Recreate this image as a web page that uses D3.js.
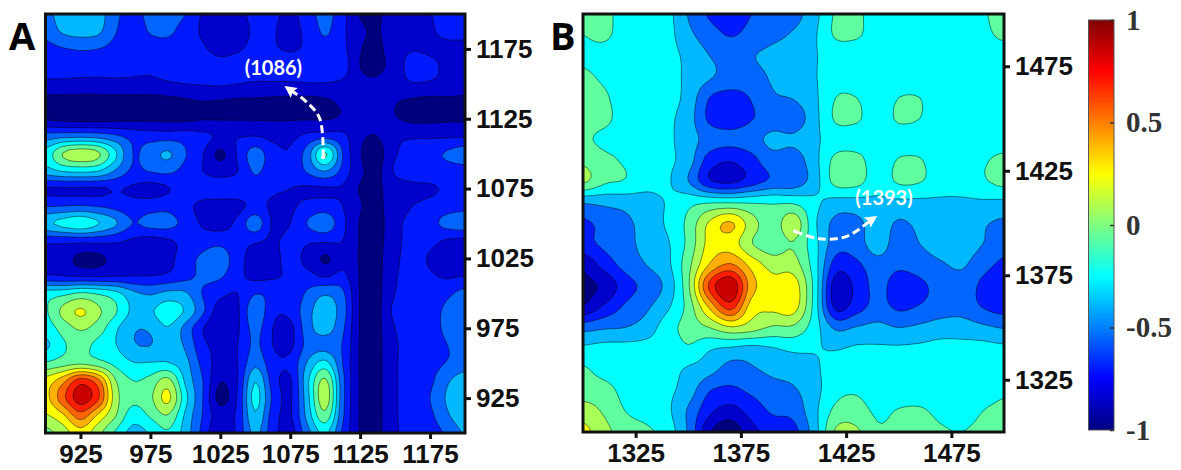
<!DOCTYPE html>
<html>
<script src='https://d3js.org/d3.v7.min.js'></script>
<style>
body {margin: 0; background: white;}
svg {display: block;}
.tick text {font-family: "Liberation Sans", sans-serif; font-weight: bold; font-size: 26px; fill: #111;}
.tick line, .domain {stroke: #111;}
.bar .tick text {font-family: "Liberation Serif", serif; font-size: 29px; fill: #333;}
.bar .tick line {stroke: #333; stroke-width: 1.5;}
.bar .domain {display: none;}
.letter {font-family: "Open Sans", sans-serif; font-weight: bold; font-size: 38px; fill: black;}
.note {font-family: "Lato", sans-serif; font-weight: bold; font-size: 20px; fill: white; text-anchor: middle;}
</style>
<body>
<svg width=1181 height=470></svg>
<script>
// contour levels and the colour filled above each one
const levels = [-1, -.85, -.7, -.55, -.4, -.25, -.1, .05, .2, .35, .5, .65, .8];
const bandColors = ["#00007f","#0000cc","#0019ff","#0066ff","#00b8ff","#00ffff","#5fffa0","#a8ff57","#ffff00","#ffb000","#ff6400","#ff1e00","#c80000"];

// colour bar
const jetValues = [-1, -.75, -.25, .25, .75, 1];
const jetColors = ["#00007f","#0000ff","#00ffff","#ffff00","#ff0000","#7f0000"];
const barTicks = [-1, -.5, 0, .5, 1];

// panel A, top row first
const ticksA = [925, 975, 1025, 1075, 1125, 1175];
const colsA = d3.range(900, 1212.5, 12.5);
const rowsA = d3.range(1200, 887.5, -12.5);
const gridA = [
[-.45,-.33,-.28,-.32,-.52,-.58,-.52,-.5,-.55,-.72,-.76,-.74,-.66,-.67,-.74,-.62,-.5,-.65,-.86,-.87,-.76,-.75,-.71,-.62,-.6],
[-.5,-.38,-.34,-.37,-.54,-.62,-.54,-.52,-.62,-.72,-.78,-.76,-.68,-.69,-.74,-.66,-.53,-.67,-.82,-.86,-.76,-.76,-.72,-.66,-.65],
[-.6,-.56,-.54,-.55,-.6,-.64,-.62,-.62,-.65,-.68,-.76,-.72,-.66,-.68,-.72,-.67,-.6,-.66,-.84,-.88,-.76,-.71,-.73,-.74,-.75],
[-.62,-.62,-.62,-.63,-.64,-.66,-.67,-.63,-.62,-.62,-.63,-.62,-.6,-.6,-.6,-.6,-.6,-.63,-.85,-.88,-.78,-.64,-.66,-.74,-.76],
[-.74,-.74,-.75,-.75,-.74,-.74,-.74,-.72,-.7,-.69,-.68,-.7,-.72,-.72,-.72,-.71,-.71,-.73,-.8,-.82,-.76,-.71,-.72,-.74,-.76],
[-.9,-.9,-.9,-.9,-.9,-.9,-.9,-.89,-.87,-.85,-.86,-.87,-.87,-.88,-.89,-.89,-.87,-.82,-.76,-.78,-.84,-.87,-.89,-.88,-.89],
[-.87,-.89,-.9,-.9,-.89,-.88,-.88,-.88,-.88,-.86,-.86,-.86,-.86,-.86,-.86,-.86,-.86,-.83,-.79,-.8,-.84,-.88,-.88,-.87,-.87],
[-.48,-.45,-.44,-.46,-.52,-.6,-.62,-.62,-.62,-.66,-.72,-.71,-.7,-.74,-.74,-.66,-.62,-.66,-.82,-.85,-.74,-.72,-.72,-.72,-.72],
[-.2,.06,.15,.08,-.22,-.55,-.47,-.38,-.54,-.69,-.88,-.68,-.48,-.64,-.68,-.47,-.08,-.55,-.84,-.9,-.72,-.62,-.6,-.53,-.46],
[-.32,-.24,-.22,-.25,-.42,-.58,-.54,-.52,-.6,-.7,-.76,-.7,-.53,-.64,-.66,-.53,-.4,-.6,-.82,-.88,-.68,-.62,-.62,-.62,-.62],
[-.72,-.72,-.72,-.72,-.69,-.72,-.76,-.71,-.62,-.62,-.62,-.62,-.62,-.68,-.7,-.72,-.72,-.72,-.86,-.87,-.78,-.74,-.72,-.68,-.66],
[-.56,-.55,-.54,-.56,-.6,-.65,-.62,-.6,-.66,-.74,-.76,-.74,-.66,-.72,-.72,-.66,-.63,-.7,-.84,-.88,-.76,-.7,-.66,-.62,-.6],
[-.28,-.2,-.14,-.24,-.38,-.55,-.5,-.5,-.6,-.72,-.76,-.66,-.46,-.72,-.7,-.54,-.45,-.66,-.86,-.9,-.74,-.66,-.6,-.5,-.46],
[-.66,-.66,-.66,-.66,-.68,-.72,-.76,-.72,-.66,-.62,-.6,-.66,-.68,-.72,-.66,-.68,-.68,-.7,-.86,-.88,-.76,-.62,-.66,-.72,-.74],
[-.78,-.8,-.88,-.88,-.8,-.72,-.83,-.75,-.62,-.52,-.47,-.64,-.76,-.74,-.66,-.74,-.87,-.76,-.86,-.88,-.74,-.62,-.72,-.76,-.78],
[-.68,-.7,-.72,-.72,-.71,-.7,-.7,-.67,-.6,-.52,-.53,-.66,-.74,-.72,-.68,-.66,-.72,-.66,-.86,-.88,-.72,-.62,-.68,-.72,-.7],
[-.18,-.15,-.08,-.12,-.2,-.36,-.42,-.36,-.38,-.56,-.66,-.7,-.56,-.6,-.68,-.52,-.42,-.52,-.86,-.88,-.7,-.62,-.62,-.58,-.5],
[-.12,.09,.22,.08,-.08,-.28,-.27,-.16,-.27,-.52,-.78,-.72,-.44,-.66,-.66,-.45,-.32,-.48,-.86,-.88,-.66,-.62,-.6,-.52,-.44],
[-.18,-.04,.07,-.02,-.22,-.38,-.38,-.26,-.45,-.69,-.85,-.72,-.5,-.7,-.74,-.46,-.34,-.52,-.86,-.88,-.7,-.62,-.6,-.52,-.46],
[-.28,-.12,-.06,-.14,-.24,-.38,-.4,-.32,-.42,-.66,-.74,-.7,-.52,-.7,-.73,-.5,-.46,-.56,-.86,-.88,-.72,-.64,-.62,-.55,-.54],
[-.08,-.02,.02,-.04,-.14,-.24,-.24,-.24,-.35,-.6,-.76,-.7,-.44,-.65,-.66,-.38,-.2,-.55,-.86,-.88,-.72,-.62,-.6,-.54,-.48],
[.26,.45,.72,.55,.06,-.1,-.05,.1,-.28,-.55,-.84,-.7,-.26,-.62,-.72,-.28,.08,-.5,-.86,-.88,-.72,-.62,-.58,-.42,-.32],
[.3,.6,.88,.68,.12,-.06,.02,.24,-.2,-.55,-.9,-.68,-.2,-.58,-.72,-.3,.14,-.5,-.86,-.88,-.72,-.62,-.55,-.38,-.33],
[.18,.32,.58,.32,.06,-.18,-.08,.04,-.28,-.56,-.78,-.66,-.27,-.62,-.72,-.34,0,-.52,-.86,-.88,-.72,-.62,-.58,-.42,-.3],
[0,.12,.28,.1,-.12,-.3,-.24,-.12,-.32,-.6,-.85,-.66,-.36,-.64,-.76,-.45,-.22,-.58,-.86,-.88,-.72,-.66,-.62,-.52,-.38]
];

// panel B, top row first
const ticksB = [1325, 1375, 1425, 1475];
const colsB = d3.range(1300, 1510, 10);
const rowsB = d3.range(1500, 1290, -10);
const gridB = [
[-.05,-.06,-.16,-.18,-.2,-.41,-.57,-.63,-.55,-.5,-.46,-.3,-.08,-.07,-.18,-.2,-.2,-.2,-.2,-.12,-.04],
[-.1,-.08,-.15,-.18,-.2,-.36,-.48,-.56,-.5,-.44,-.38,-.27,-.08,-.08,-.18,-.2,-.2,-.2,-.2,-.14,-.07],
[-.12,-.14,-.17,-.19,-.2,-.29,-.4,-.45,-.41,-.36,-.33,-.26,-.2,-.2,-.2,-.2,-.2,-.2,-.2,-.18,-.18],
[-.08,-.12,-.17,-.18,-.2,-.28,-.38,-.46,-.46,-.38,-.33,-.26,-.18,-.18,-.18,-.18,-.18,-.18,-.18,-.18,-.18],
[-.05,-.08,-.17,-.18,-.2,-.3,-.55,-.6,-.54,-.42,-.39,-.28,-.1,-.1,-.18,-.1,-.1,-.18,-.18,-.18,-.18],
[-.04,-.06,-.17,-.18,-.22,-.33,-.58,-.63,-.56,-.48,-.5,-.3,-.08,-.08,-.18,-.08,-.1,-.18,-.18,-.18,-.18],
[-.07,-.14,-.18,-.19,-.22,-.33,-.46,-.5,-.46,-.36,-.37,-.28,-.18,-.18,-.18,-.18,-.18,-.18,-.18,-.18,-.18],
[.02,-.06,-.12,-.19,-.22,-.33,-.62,-.69,-.6,-.46,-.48,-.3,-.06,-.05,-.18,-.09,-.09,-.18,-.18,-.12,-.06],
[.08,-.07,-.11,-.2,-.23,-.4,-.68,-.74,-.63,-.52,-.5,-.32,-.05,-.05,-.18,-.08,-.09,-.18,-.18,-.12,-.05],
[-.38,-.36,-.34,-.3,-.24,-.15,-.12,-.12,-.12,-.12,-.13,-.22,-.3,-.3,-.28,-.28,-.28,-.27,-.27,-.27,-.28],
[-.58,-.5,-.44,-.33,-.23,-.06,.22,.37,.12,-.03,.15,-.22,-.44,-.44,-.32,-.42,-.36,-.3,-.3,-.38,-.43],
[-.6,-.52,-.46,-.34,-.27,-.06,.25,.28,.06,-.04,.04,-.2,-.48,-.47,-.32,-.48,-.4,-.33,-.32,-.4,-.5],
[-.82,-.64,-.5,-.4,-.29,0,.36,.52,.3,.14,.12,-.18,-.62,-.58,-.46,-.52,-.48,-.42,-.38,-.5,-.58],
[-.88,-.82,-.62,-.5,-.35,.02,.68,.95,.42,.26,.28,-.15,-.78,-.66,-.5,-.63,-.58,-.5,-.47,-.58,-.64],
[-.84,-.68,-.53,-.43,-.28,-.04,.38,.72,.28,.24,.27,-.16,-.74,-.62,-.5,-.58,-.54,-.48,-.46,-.56,-.62],
[-.46,-.42,-.4,-.33,-.17,-.04,.05,.18,.12,.03,.02,-.18,-.43,-.39,-.36,-.4,-.37,-.33,-.33,-.37,-.41],
[-.22,-.2,-.2,-.2,-.2,-.12,-.23,-.27,-.3,-.26,-.22,-.24,-.26,-.23,-.23,-.23,-.22,-.2,-.2,-.2,-.22],
[-.08,-.16,-.19,-.2,-.2,-.27,-.34,-.46,-.42,-.36,-.33,-.27,-.2,-.18,-.18,-.18,-.18,-.18,-.18,-.18,-.18],
[-.02,-.04,-.15,-.18,-.22,-.32,-.54,-.58,-.52,-.46,-.42,-.3,-.15,-.12,-.2,-.18,-.18,-.18,-.18,-.18,-.13],
[.12,.03,-.1,-.16,-.22,-.42,-.66,-.76,-.64,-.53,-.5,-.29,-.06,-.03,-.13,-.09,-.08,-.14,-.18,-.1,-.05],
[.25,.1,-.02,-.07,-.17,-.42,-.83,-.95,-.75,-.65,-.6,-.32,.07,.07,-.08,-.06,-.03,-.08,-.1,-.05,-.02]
];

// the two arrows, in wavenumbers
const arrowA = {label: "(1086)", at: [1063, 1161], path: [[1098.6, 1097.5], [1096, 1125.5], [1085.6, 1138], [1075, 1145.5]]};
const arrowB = {label: "(1393)", at: [1443, 1412], path: [[1400.7, 1396], [1412, 1392.5], [1425, 1393.5], [1437, 1401.5]]};

const svg = d3.select("svg");
const fine = 5, pad = 2;   // contour mesh per read cell, repeated samples round the edge

function cubic(a, b, c, d, t) {
  return b + .5 * t * (c - a + t * (2 * a - 5 * b + 4 * c - d + t * (3 * (b - c) + d - a)));
}

// smooth mesh for the contour routine only, passes through every read value
function mesh(grid) {
  const m = grid.length, n = grid[0].length;
  const at = (j, i) => grid[Math.max(0, Math.min(m - 1, j))][Math.max(0, Math.min(n - 1, i))];
  const w = (n - 1) * fine + 1 + 2 * pad, h = (m - 1) * fine + 1 + 2 * pad;
  const out = new Array(w * h);
  for (let sy = 0; sy < h; sy++) for (let sx = 0; sx < w; sx++) {
    const fy = Math.max(0, Math.min(m - 1, (sy - pad) / fine)), fx = Math.max(0, Math.min(n - 1, (sx - pad) / fine));
    const j = Math.floor(fy), i = Math.floor(fx), ty = fy - j, tx = fx - i;
    const col = [-1, 0, 1, 2].map(d => cubic(at(j + d, i - 1), at(j + d, i), at(j + d, i + 1), at(j + d, i + 2), tx));
    out[sy * w + sx] = cubic(col[0], col[1], col[2], col[3], ty);
  }
  return {values: out, w: w, h: h};
}

function panel(name, letter, letterX, cols, rows, grid, ticks, xRange, yRange, arrow) {
  const x = d3.scaleLinear().domain([cols[0], cols[cols.length - 1]]).range(xRange);
  const y = d3.scaleLinear().domain([rows[rows.length - 1], rows[0]]).range(yRange);
  const fineGrid = mesh(grid);
  const px = d3.scaleLinear().domain([pad + .5, fineGrid.w - pad - .5]).range(xRange);
  const py = d3.scaleLinear().domain([pad + .5, fineGrid.h - pad - .5]).range([yRange[1], yRange[0]]);
  const contours = d3.contours().size([fineGrid.w, fineGrid.h]).thresholds(levels)(fineGrid.values);
  const path = d3.geoPath(d3.geoTransform({point: function(a, b) { this.stream.point(px(a), py(b)); }}));

  svg.append("clipPath").attr("id", "clip" + name).append("rect")
    .attr("x", xRange[0]).attr("y", yRange[1])
    .attr("width", xRange[1] - xRange[0]).attr("height", yRange[0] - yRange[1]);

  const g = svg.append("g").attr("clip-path", "url(#clip" + name + ")");
  g.selectAll("path").data(contours).enter().append("path")
    .attr("fill", (d, i) => bandColors[i])
    .attr("stroke", "rgba(0,0,0,.6)")
    .attr("stroke-width", (d, i) => i == 0 ? 0 : .8)
    .attr("d", path);

  svg.append("rect")
    .attr("x", xRange[0]).attr("y", yRange[1])
    .attr("width", xRange[1] - xRange[0]).attr("height", yRange[0] - yRange[1])
    .attr("fill", "none").attr("stroke", "#111").attr("stroke-width", 3);

  const bottom = svg.append("g").attr("transform", "translate(0," + yRange[0] + ")")
    .call(d3.axisBottom(x).tickValues(ticks).tickFormat(d3.format("d")).tickSize(6).tickPadding(6).tickSizeOuter(0));
  const right = svg.append("g").attr("transform", "translate(" + xRange[1] + ",0)")
    .call(d3.axisRight(y).tickValues(ticks).tickFormat(d3.format("d")).tickSize(6).tickPadding(5).tickSizeOuter(0));
  [bottom, right].forEach(a => {
    a.selectAll(".tick line").attr("stroke-width", 3);
    a.select(".domain").remove();
  });

  // arrow
  const pts = arrow.path.map(p => [x(p[0]), y(p[1])]);
  const curve = d3.line().curve(d3.curveCatmullRom);
  svg.append("path").attr("d", curve(pts)).attr("fill", "none")
    .attr("stroke", "white").attr("stroke-width", 3).attr("stroke-dasharray", "8 4");
  const end = pts[pts.length - 1], before = pts[pts.length - 2];
  const angle = Math.atan2(end[1] - before[1], end[0] - before[0]) * 180 / Math.PI;
  svg.append("path").attr("d", "M7,0L-5,-6L-3,0L-5,6Z").attr("fill", "white")
    .attr("transform", "translate(" + end + ") rotate(" + angle + ")");
  svg.append("text").attr("class", "note")
    .attr("x", x(arrow.at[0])).attr("y", y(arrow.at[1])).attr("dy", ".35em").text(arrow.label);
  svg.append("circle").attr("cx", pts[0][0]).attr("cy", pts[0][1]).attr("r", 2).attr("fill", "white");

  svg.append("text").attr("class", "letter").attr("x", letterX).attr("y", 50).text(letter);
}

panel("A", "A", 9, colsA, rowsA, gridA, ticksA, [45.5, 465], [433, 14], arrowA);
panel("B", "B", 550, colsB, rowsB, gridB, ticksB, [583, 1004], [432, 14], arrowB);

// colour bar
const barY = d3.scaleLinear().domain([-1, 1]).range([430, 20]);
const grad = svg.append("linearGradient").attr("id", "jet")
  .attr("x1", 0).attr("y1", 1).attr("x2", 0).attr("y2", 0);
jetValues.forEach((v, i) => grad.append("stop")
  .attr("offset", (v + 1) / 2).attr("stop-color", jetColors[i]));
svg.append("rect").attr("x", 1088.5).attr("y", 20).attr("width", 25.5).attr("height", 410)
  .attr("fill", "url(#jet)").attr("stroke", "#555").attr("stroke-width", 1);
svg.append("g").attr("class", "bar").attr("transform", "translate(1114,0)")
  .call(d3.axisRight(barY).tickValues(barTicks).tickSize(-4).tickPadding(12).tickSizeOuter(0)
    .tickFormat(d => d));
</script>
</body>
</html>
